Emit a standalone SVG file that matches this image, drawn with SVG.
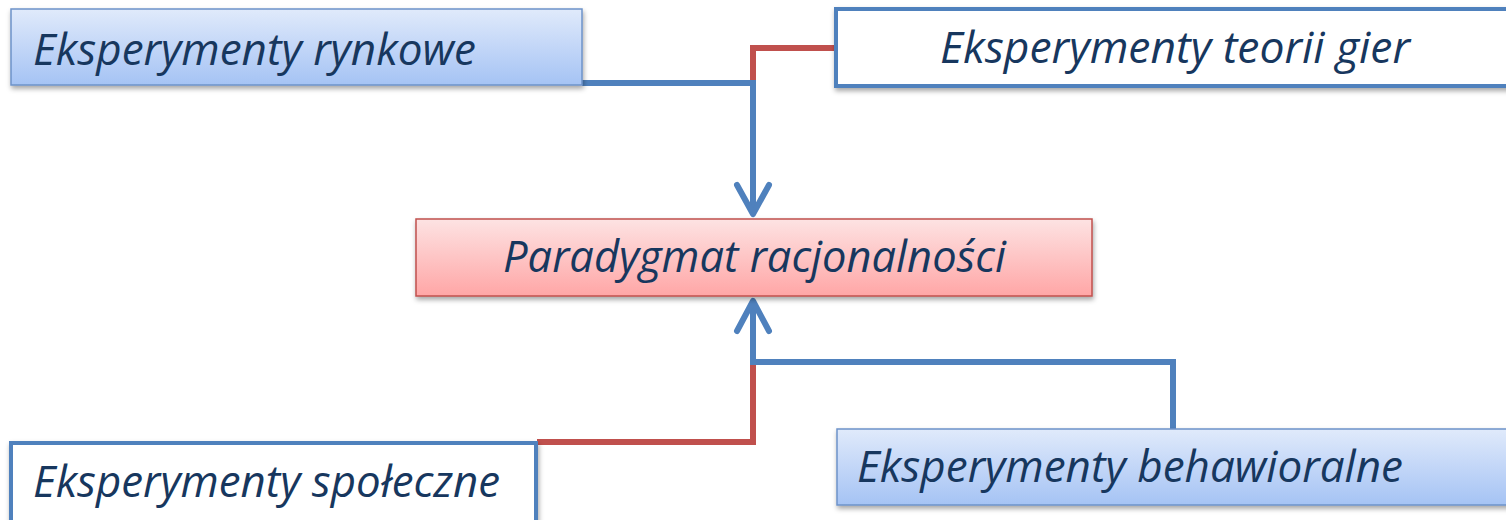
<svg xmlns="http://www.w3.org/2000/svg" width="1506" height="520" viewBox="0 0 1506 520">
<defs>
<linearGradient id="gBlue" x1="0" y1="0" x2="0" y2="1">
<stop offset="0" stop-color="#e0eafb"/>
<stop offset="1" stop-color="#a5c3f4"/>
</linearGradient>
<linearGradient id="gRed" x1="0" y1="0" x2="0" y2="1">
<stop offset="0" stop-color="#fde3e3"/>
<stop offset="1" stop-color="#ffa6a6"/>
</linearGradient>
<filter id="sh" x="-5%" y="-20%" width="110%" height="150%">
<feDropShadow dx="1" dy="3" stdDeviation="2.5" flood-color="#000" flood-opacity="0.35"/>
</filter>
<style>
.txt{font-family:"Open Sans","Liberation Sans",sans-serif;font-style:italic;font-size:44px;fill:#17375e}
.gb{fill:url(#gBlue);stroke:#6d93c9;stroke-width:1.5}
.wb{fill:#ffffff;stroke:#4f81bd;stroke-width:4}
.rb{fill:url(#gRed);stroke:#c0504d;stroke-width:1.5}
.cb{fill:none;stroke:#4f81bd;stroke-width:6;stroke-linejoin:miter}
.cr{fill:none;stroke:#c0504d;stroke-width:6;stroke-linejoin:miter}
.ah{fill:none;stroke:#4f81bd;stroke-width:6;stroke-linecap:round;stroke-linejoin:round}
</style>
</defs>
<g id="connectors">
<path class="cr" d="M836 48 H753 V82"/>
<path class="cb" d="M582 83 H753 V214"/>
<path class="ah" d="M737 185 L753 214 L769 185"/>
<path class="cr" d="M537 442 H753 V362"/>
<path class="cb" d="M753 301 V362 H1173 V429"/>
<path class="ah" d="M737 331 L753 301 L769 331"/>
</g>
<g id="node-rynkowe">
<rect class="gb" x="11" y="9" width="571" height="76" filter="url(#sh)"/>
<text class="txt" x="33" y="65" textLength="443" lengthAdjust="spacingAndGlyphs">Eksperymenty rynkowe</text>
</g>
<g id="node-teorii-gier">
<rect class="wb" x="836" y="9" width="680" height="77" filter="url(#sh)"/>
<text class="txt" x="940" y="63" textLength="470" lengthAdjust="spacingAndGlyphs">Eksperymenty teorii gier</text>
</g>
<g id="node-paradygmat">
<rect class="rb" x="416" y="219" width="676" height="77" filter="url(#sh)"/>
<text class="txt" x="503" y="272" textLength="503" lengthAdjust="spacingAndGlyphs">Paradygmat racjonalności</text>
</g>
<g id="node-spoleczne">
<rect class="wb" x="11" y="443" width="525" height="90" filter="url(#sh)"/>
<text class="txt" x="33" y="497" textLength="467" lengthAdjust="spacingAndGlyphs">Eksperymenty społeczne</text>
</g>
<g id="node-behawioralne">
<rect class="gb" x="837" y="429" width="680" height="76" filter="url(#sh)"/>
<text class="txt" x="857" y="482" textLength="546" lengthAdjust="spacingAndGlyphs">Eksperymenty behawioralne</text>
</g>
</svg>
